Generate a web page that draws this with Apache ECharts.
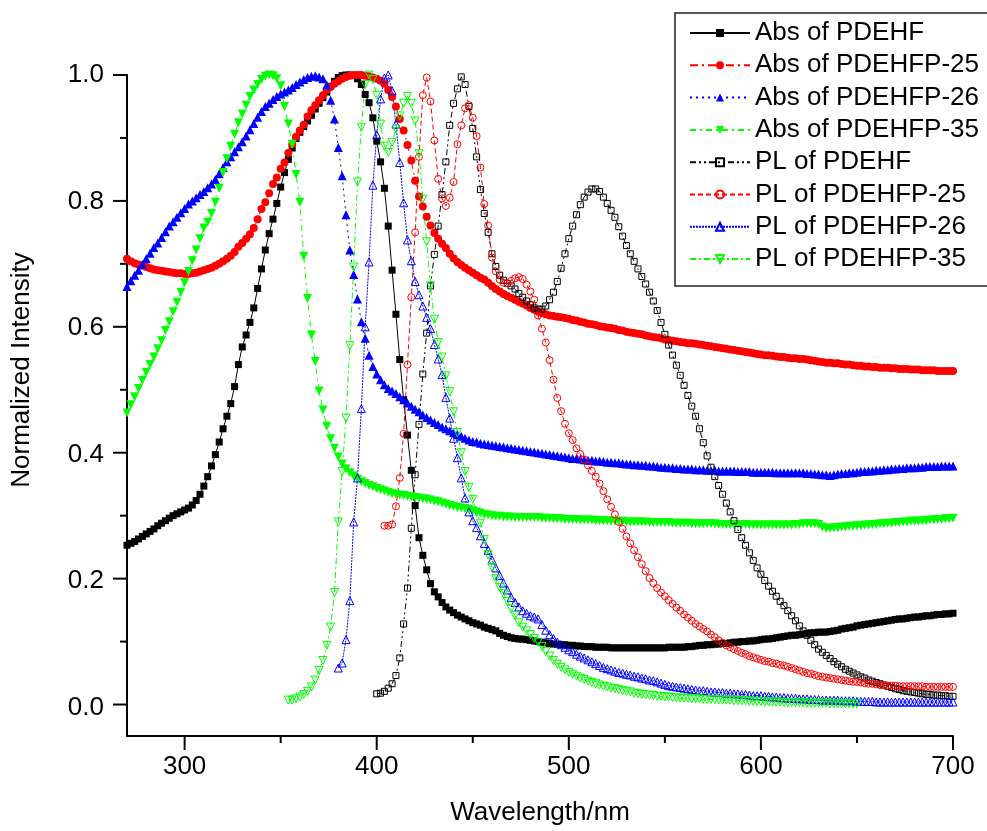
<!DOCTYPE html>
<html><head><meta charset="utf-8">
<script src="https://cdn.jsdelivr.net/npm/echarts@6/dist/echarts.min.js"></script>
<style>html,body{margin:0;padding:0;background:#fff}#c{width:987px;height:831px}</style>
</head><body><div id="c"></div>
<script>
// wavelength grid (nm)
const wavelengths = [
270,272,274,276,278,280,282,284,286,288,
290,292,294,296,298,300,302,304,306,308,
310,312,314,316,318,320,322,324,326,328,
330,332,334,336,338,340,342,344,346,348,
350,352,354,356,358,360,362,364,366,368,
370,372,374,376,378,380,382,384,386,388,
390,392,394,396,398,400,402,404,406,408,
410,412,414,416,418,420,422,424,426,428,
430,432,434,436,438,440,442,444,446,448,
450,452,454,456,458,460,462,464,466,468,
470,472,474,476,478,480,482,484,486,488,
490,492,494,496,498,500,502,504,506,508,
510,512,514,516,518,520,522,524,526,528,
530,532,534,536,538,540,542,544,546,548,
550,552,554,556,558,560,562,564,566,568,
570,572,574,576,578,580,582,584,586,588,
590,592,594,596,598,600,602,604,606,608,
610,612,614,616,618,620,622,624,626,628,
630,632,634,636,638,640,642,644,646,648,
650,652,654,656,658,660,662,664,666,668,
670,672,674,676,678,680,682,684,686,688,
690,692,694,696,698,700];

// Absorption spectra, 270-700 nm
const absPDEHF = [
.253,.256,.259,.263,.267,.271,.275,.279,.284,.288,
.292,.296,.300,.303,.306,.309,.312,.317,.324,.334,
.347,.362,.379,.397,.417,.438,.458,.478,.505,.540,
.568,.587,.607,.630,.661,.692,.722,.748,.771,.796,
.822,.845,.866,.884,.899,.909,.918,.927,.936,.946,
.955,.964,.973,.982,.990,.996,.999,1,1,.999,
.994,.985,.969,.956,.932,.895,.862,.820,.760,.690,
.620,.548,.484,.428,.372,.316,.265,.237,.214,.192,
.179,.171,.162,.155,.150,.146,.142,.139,.136,.133,
.130,.128,.126,.123,.121,.119,.117,.113,.110,.108,
.106,.105,.104,.104,.103,.102,.101,.100,.099,.098,
.097,.096,.096,.095,.095,.094,.094,.093,.093,.092,
.092,.092,.091,.091,.091,.091,.090,.090,.090,.090,
.090,.090,.090,.090,.090,.090,.090,.090,.090,.090,
.090,.091,.091,.091,.091,.091,.092,.092,.093,.094,
.094,.095,.095,.096,.096,.097,.097,.098,.099,.099,
.100,.100,.101,.101,.102,.103,.104,.104,.105,.106,
.107,.108,.109,.110,.110,.111,.112,.113,.114,.114,
.115,.115,.115,.116,.117,.118,.120,.121,.122,.123,
.125,.126,.127,.128,.129,.130,.131,.132,.133,.134,
.135,.136,.136,.137,.138,.139,.139,.140,.141,.141,
.142,.143,.143,.144,.144,.145];

const absPDEHFP25 = [
.708,.704,.701,.699,.697,.695,.693,.691,.690,.689,
.688,.687,.686,.685,.685,.684,.684,.685,.686,.688,
.690,.692,.694,.697,.700,.704,.708,.713,.719,.727,
.733,.740,.747,.757,.771,.787,.798,.812,.827,.837,
.851,.861,.876,.890,.902,.912,.921,.934,.944,.952,
.960,.968,.976,.981,.986,.990,.994,.997,.999,1,
1,1,.999,.998,.996,.994,.991,.986,.976,.965,
.950,.930,.912,.889,.864,.832,.807,.791,.775,.761,
.749,.740,.732,.725,.716,.709,.703,.698,.694,.690,
.686,.682,.678,.675,.670,.665,.660,.656,.652,.649,
.646,.643,.640,.637,.634,.630,.627,.624,.622,.620,
.618,.617,.616,.615,.614,.613,.611,.610,.608,.607,
.605,.604,.603,.601,.600,.599,.598,.597,.595,.594,
.592,.591,.590,.589,.588,.586,.585,.584,.583,.582,
.580,.579,.578,.577,.576,.575,.574,.574,.573,.572,
.571,.570,.569,.568,.567,.566,.565,.564,.563,.562,
.561,.560,.559,.558,.557,.556,.555,.555,.554,.553,
.552,.552,.551,.550,.550,.549,.549,.548,.547,.546,
.545,.544,.543,.543,.542,.542,.541,.540,.540,.539,
.538,.538,.537,.537,.536,.536,.535,.535,.535,.534,
.534,.533,.533,.533,.532,.532,.532,.531,.531,.531,
.531,.530,.530,.530,.530,.530];

const absPDEHFP26 = [
.664,.673,.682,.690,.699,.708,.717,.726,.733,.742,
.751,.760,.767,.774,.781,.788,.795,.800,.805,.810,
.815,.821,.827,.834,.843,.853,.862,.870,.878,.886,
.894,.903,.913,.923,.933,.942,.950,.955,.961,.966,
.970,.973,.976,.980,.985,.989,.993,.996,.998,.999,
.997,.994,.984,.960,.930,.885,.840,.778,.722,.683,
.644,.608,.582,.555,.537,.525,.516,.508,.502,.498,
.494,.489,.484,.479,.474,.469,.465,.460,.456,.452,
.448,.445,.441,.438,.435,.432,.429,.426,.423,.420,
.418,.417,.415,.414,.413,.412,.411,.410,.409,.408,
.407,.406,.405,.404,.403,.402,.401,.400,.399,.398,
.397,.396,.395,.394,.393,.392,.391,.391,.390,.389,
.388,.388,.387,.387,.386,.385,.385,.384,.384,.383,
.382,.382,.381,.381,.380,.380,.379,.379,.378,.377,
.377,.376,.376,.375,.375,.374,.374,.374,.373,.373,
.373,.372,.372,.372,.371,.371,.371,.371,.371,.370,
.370,.370,.370,.369,.369,.369,.369,.369,.369,.368,
.368,.368,.368,.368,.368,.368,.368,.367,.367,.366,
.366,.365,.365,.364,.365,.366,.367,.367,.368,.368,
.369,.370,.370,.371,.371,.372,.372,.373,.373,.374,
.374,.375,.375,.376,.376,.376,.377,.377,.378,.378,
.378,.378,.379,.379,.379,.379];

const absPDEHFP35 = [
.463,.476,.489,.502,.515,.528,.540,.552,.565,.578,
.594,.608,.624,.639,.655,.670,.688,.705,.722,.740,
.757,.766,.780,.798,.820,.845,.867,.887,.906,.924,
.938,.952,.966,.976,.985,.993,.998,1,.999,.994,
.983,.950,.922,.890,.842,.798,.712,.645,.587,.545,
.498,.468,.442,.422,.407,.393,.382,.374,.368,.363,
.358,.354,.351,.348,.346,.343,.341,.339,.337,.335,
.334,.333,.332,.331,.330,.329,.328,.327,.326,.325,
.323,.322,.320,.318,.316,.315,.313,.312,.311,.310,
.308,.306,.304,.302,.301,.300,.299,.299,.298,.298,
.298,.297,.297,.297,.297,.297,.297,.297,.296,.296,
.296,.295,.295,.295,.294,.294,.294,.294,.293,.293,
.293,.293,.292,.292,.292,.292,.291,.291,.291,.291,
.290,.290,.290,.290,.290,.290,.289,.289,.289,.289,
.289,.289,.288,.288,.288,.288,.288,.287,.287,.287,
.287,.287,.287,.287,.286,.286,.286,.286,.286,.286,
.286,.286,.285,.285,.285,.285,.285,.285,.285,.285,
.285,.285,.285,.285,.286,.286,.287,.287,.287,.287,
.286,.282,.280,.280,.281,.281,.282,.282,.283,.283,
.284,.284,.285,.285,.286,.286,.287,.287,.288,.288,
.289,.289,.290,.290,.291,.291,.291,.292,.292,.293,
.293,.294,.294,.295,.295,.296];

// Photoluminescence spectra
const plPDEHF = [ // 400-700 nm
.017,.018,.021,.026,.033,.046,.074,.128,.185,.280,
.365,.445,.525,.590,.665,.715,.760,.810,.862,.920,
.955,.978,.997,.985,.950,.915,.870,.818,.780,.750,
.716,.696,.682,.674,.669,.665,.660,.653,.647,.641,
.635,.630,.628,.628,.633,.643,.655,.672,.693,.716,
.740,.760,.778,.794,.806,.814,.819,.819,.815,.806,
.796,.785,.774,.759,.744,.729,.716,.704,.692,.680,
.668,.655,.641,.626,.607,.588,.571,.555,.539,.523,
.507,.491,.474,.458,.438,.416,.395,.377,.362,.348,
.334,.320,.306,.292,.278,.265,.253,.241,.229,.217,
.207,.197,.188,.180,.172,.164,.157,.149,.141,.133,
.125,.117,.110,.102,.095,.088,.083,.078,.073,.068,
.064,.060,.056,.053,.050,.047,.044,.042,.039,.037,
.035,.033,.031,.029,.027,.025,.024,.022,.021,.020,
.019,.018,.017,.016,.016,.015,.015,.014,.014,.013,
.013];

const plPDEHFP25 = [ // 404-700 nm
.284,.284,.286,.315,.360,.430,.540,.647,.750,.870,
.968,.996,.958,.896,.835,.804,.792,.805,.830,.890,
.920,.947,.952,.932,.903,.853,.795,.761,.710,.688,
.675,.670,.669,.673,.677,.679,.676,.667,.656,.643,
.618,.597,.575,.547,.516,.487,.466,.446,.431,.420,
.407,.398,.389,.380,.371,.362,.351,.339,.326,.314,
.302,.290,.279,.267,.256,.245,.234,.223,.212,.201,
.193,.185,.178,.172,.166,.160,.154,.149,.143,.138,
.133,.128,.124,.120,.116,.111,.107,.102,.098,.094,
.091,.088,.085,.082,.080,.077,.075,.073,.071,.069,
.068,.066,.065,.063,.062,.060,.058,.056,.054,.052,
.050,.049,.047,.045,.044,.043,.042,.041,.040,.039,
.038,.037,.036,.036,.035,.034,.033,.033,.032,.031,
.031,.030,.030,.030,.029,.029,.029,.029,.029,.029,
.029,.028,.028,.028,.028,.028,.028,.028,.028];

const plPDEHFP26 = [ // 380-700 nm
.058,.066,.103,.165,.290,.360,.470,.600,.703,.825,
.905,.962,.995,1,.975,.922,.861,.797,.738,.705,
.672,.651,.633,.615,.597,.572,.549,.524,.488,.455,
.423,.392,.360,.328,.306,.292,.281,.268,.256,.245,
.230,.217,.205,.193,.182,.170,.162,.155,.149,.145,
.141,.139,.136,.127,.118,.111,.105,.099,.095,.091,
.087,.084,.080,.077,.074,.071,.068,.065,.062,.059,
.057,.055,.053,.051,.050,.048,.047,.045,.044,.042,
.041,.039,.038,.036,.034,.032,.030,.029,.028,.027,
.026,.025,.024,.023,.022,.022,.021,.020,.020,.019,
.019,.018,.018,.017,.017,.016,.016,.015,.014,.014,
.014,.013,.013,.012,.012,.011,.011,.010,.010,.010,
.009,.009,.009,.008,.008,.008,.007,.007,.007,.007,
.007,.006,.006,.006,.006,.005,.005,.005,.005,.005,
.004,.004,.004,.004,.004,.004,.004,.004,.004,.004,
.004,.004,.004,.004,.004,.004,.004,.004,.004,.004,
.004];

const plPDEHFP35 = [ // 354-650 nm
.007,.007,.009,.012,.016,.021,.028,.039,.054,.070,
.094,.123,.178,.290,.370,.455,.570,.695,.830,.917,
.985,1,.993,.968,.922,.887,.877,.893,.914,.935,
.955,.966,.955,.927,.875,.803,.735,.665,.612,.575,
.552,.522,.497,.465,.432,.400,.370,.345,.326,.305,
.288,.262,.238,.218,.200,.186,.176,.164,.152,.141,
.130,.123,.117,.111,.105,.099,.092,.084,.077,.070,
.064,.059,.055,.051,.048,.045,.042,.040,.037,.035,
.033,.031,.029,.028,.026,.025,.024,.022,.021,.020,
.018,.017,.016,.015,.015,.014,.013,.013,.012,.012,
.011,.011,.010,.010,.010,.009,.009,.009,.008,.008,
.008,.008,.007,.007,.007,.007,.006,.006,.006,.006,
.005,.005,.005,.005,.004,.004,.004,.004,.004,.003,
.003,.003,.003,.003,.003,.002,.002,.002,.002,.002,
.002,.001,.001,.001,.001,.001,.001,.001,.001];

const seriesNames = ['Abs of PDEHF','Abs of PDEHFP-25','Abs of PDEHFP-26','Abs of PDEHFP-35',
  'PL of PDEHF','PL of PDEHFP-25','PL of PDEHFP-26','PL of PDEHFP-35'];
// axis ranges and ticks
const xRange = [270, 700];
const yRange = [-0.05, 1.0];
const xMajorTicks = [300, 400, 500, 600, 700];
const xMinorTicks = [350, 450, 550, 650];
const yMajorTicks = [0, 0.2, 0.4, 0.6, 0.8, 1.0];
const yMinorTicks = [0.1, 0.3, 0.5, 0.7, 0.9];

function pairs(startNm, ys){
  const i0 = wavelengths.indexOf(startNm);
  return ys.map((y,i)=>[wavelengths[i0+i], y]);
}
const FONT = '"Liberation Sans", Arial, sans-serif';

function mk(name, data, color, symbol, size, filled, dash, rotate){
  return {
    name, type:'line', xAxisIndex:0, yAxisIndex:0, data, symbol, symbolSize:size, symbolRotate: rotate||0,
    showSymbol:true, showAllSymbol:true, clip:false, animation:false,
    lineStyle:{color, width:1, type:dash},
    itemStyle: filled ? {color} : {color:'rgba(255,255,255,0)', borderColor:color, borderWidth:1},
    emphasis:{disabled:true}
  };
}
// tick marks drawn through the main axes' scales
function tickSeries(values, dim, len){
  return {
    type:'custom', xAxisIndex:0, yAxisIndex:0, silent:true, clip:false, animation:false, z:5,
    data: values.map(v => dim === 'x' ? [v, yRange[0]] : [xRange[0], v]),
    renderItem:(params, api)=>{
      const p = api.coord([api.value(0), api.value(1)]);
      const shape = dim === 'x'
        ? {x1:p[0], y1:p[1], x2:p[0], y2:p[1]+len}
        : {x1:p[0]-len, y1:p[1], x2:p[0], y2:p[1]};
      return {type:'line', shape, style:{stroke:'#000', lineWidth:2}};
    }
  };
}

// main plot rectangle (px)
const G = {left:127, right:34, top:75, bottom:92};
const H = 831 - G.top - G.bottom;
const pxPerY = H / (yRange[1]-yRange[0]);
// label grid for y: its 0..1 range coincides with the main axis values 0..1
const gridYLabels = {left:G.left, right:G.right, top:G.top + (yRange[1]-1.0)*pxPerY,
                     bottom:G.bottom + (0 - yRange[0])*pxPerY, containLabel:false};

const chart = echarts.init(document.getElementById('c'), null, {renderer:'canvas'});
chart.setOption({
  animation:false,
  backgroundColor:'#fff',
  grid:[
    Object.assign({containLabel:false}, G),  // 0 main
    gridYLabels                              // 1 y labels
  ],
  xAxis:[
    {gridIndex:0, type:'value', min:xRange[0], max:xRange[1], position:'bottom',
     axisLine:{show:true, onZero:false, lineStyle:{color:'#000', width:2}},
     axisTick:{show:false}, minorTick:{show:false}, splitLine:{show:false},
     axisLabel:{show:true, margin:18, fontSize:26, color:'#000', fontFamily:FONT,
       customValues:xMajorTicks},
     name:'Wavelength/nm', nameLocation:'middle', nameGap:64,
     nameTextStyle:{fontSize:26, color:'#000', fontFamily:FONT}},
    {gridIndex:1, type:'value', min:xRange[0], max:xRange[1], show:false}
  ],
  yAxis:[
    {gridIndex:0, type:'value', min:yRange[0], max:yRange[1], position:'left',
     axisLine:{show:true, onZero:false, lineStyle:{color:'#000', width:2}},
     axisTick:{show:false}, axisLabel:{show:false}, splitLine:{show:false}, minorTick:{show:false}},
    {gridIndex:1, type:'value', min:0, max:1, interval:0.2, position:'left',
     axisLine:{show:false, onZero:false}, axisTick:{show:false}, minorTick:{show:false},
     axisLabel:{show:true, margin:23, fontSize:26, color:'#000', fontFamily:FONT,
       formatter:v=>Number(v).toFixed(1)},
     splitLine:{show:false}}
  ],
  legend:{
    orient:'vertical', left:675, top:13, padding:[7,12,14,14],
    itemWidth:60, itemHeight:10, itemGap:6.3,
    backgroundColor:'#fff', borderColor:'#222', borderWidth:1.5, borderRadius:0,
    textStyle:{fontFamily:FONT, fontSize:26, color:'#000', lineHeight:26},
    data:seriesNames
  },
  graphic:[{type:'text', x:22, y:370, rotation:Math.PI/2,
    style:{text:'Normalized Intensity', fontSize:26, fontFamily:FONT, fill:'#000', align:'center', verticalAlign:'middle'}}],
  series:[
    mk(seriesNames[0], pairs(270, absPDEHF), '#000000', 'rect', 7, true, 'solid'),
    mk(seriesNames[1], pairs(270, absPDEHFP25), '#ff0000', 'circle', 8, true, [8,4,2,4]),
    mk(seriesNames[2], pairs(270, absPDEHFP26), '#0000ff', 'triangle', 9, true, [2,4]),
    mk(seriesNames[3], pairs(270, absPDEHFP35), '#00ff00', 'triangle', 9, true, [6,4,2,4], 180),
    mk(seriesNames[4], pairs(400, plPDEHF), '#000000', 'rect', 6, false, [6,3,2,3,2,3]),
    mk(seriesNames[5], pairs(404, plPDEHFP25), '#ff0000', 'circle', 7, false, [5,3]),
    mk(seriesNames[6], pairs(380, plPDEHFP26), '#0000ff', 'triangle', 8, false, [2,1]),
    mk(seriesNames[7], pairs(354, plPDEHFP35), '#00ff00', 'triangle', 8, false, [6,3,2,3], 180),
    tickSeries(xMajorTicks, 'x', 14),
    tickSeries(xMinorTicks, 'x', 7),
    tickSeries(yMajorTicks, 'y', 14),
    tickSeries(yMinorTicks, 'y', 7)
  ]
});
</script>
</body></html>
